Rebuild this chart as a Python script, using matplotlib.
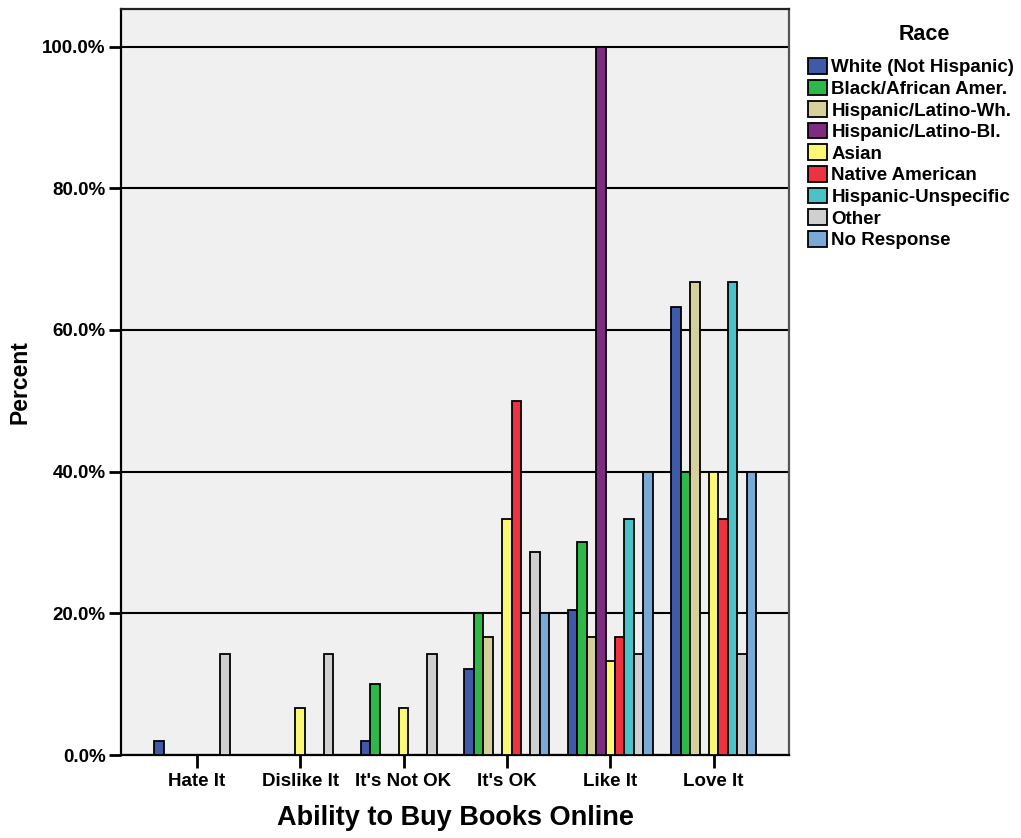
import numpy as np
import matplotlib
matplotlib.use("Agg")
import matplotlib.pyplot as plt
from matplotlib.patches import Patch

plt.rcParams['font.family'] = ['Liberation Sans', 'DejaVu Sans']
plt.rcParams['font.weight'] = 'bold'

# categories on x
categories = ["Hate It", "Dislike It", "It's Not OK", "It's OK", "Like It", "Love It"]

# races (legend) and their colours
races = ["White (Not Hispanic)", "Black/African Amer.", "Hispanic/Latino-Wh.",
         "Hispanic/Latino-Bl.", "Asian", "Native American",
         "Hispanic-Unspecific", "Other", "No Response"]
colors = ["#3f5aa8", "#2fb84a", "#d6d09b", "#7f2b82", "#fbf873",
          "#ee3340", "#49c2c8", "#d0d0d0", "#7aa9d8"]

# percent per race, one value per category (0 = no bar)
white = [2.0, 0.0, 2.0, 12.2, 20.4, 63.3]
black = [0.0, 0.0, 10.0, 20.0, 30.0, 40.0]
hisp_wh = [0.0, 0.0, 0.0, 16.7, 16.7, 66.7]
hisp_bl = [0.0, 0.0, 0.0, 0.0, 100.0, 0.0]
asian = [0.0, 6.7, 6.7, 33.3, 13.3, 40.0]
native = [0.0, 0.0, 0.0, 50.0, 16.7, 33.3]
hisp_unsp = [0.0, 0.0, 0.0, 0.0, 33.3, 66.7]
other = [14.3, 14.3, 14.3, 28.6, 14.3, 14.3]
no_resp = [0.0, 0.0, 0.0, 20.0, 40.0, 40.0]

series = [white, black, hisp_wh, hisp_bl, asian, native, hisp_unsp, other, no_resp]

fig = plt.figure(figsize=(10.21, 8.38), dpi=100)
ax = fig.add_axes([121 / 1021, 83 / 838, 668 / 1021, 746 / 838])
ax.set_facecolor("#f0f0f0")

x = np.arange(len(categories))
w = 0.0912
n = len(series)
for i, (vals, c) in enumerate(zip(series, colors)):
    vals = np.array(vals)
    xs = x + (i - (n - 1) / 2) * w
    mask = vals > 0
    ax.bar(xs[mask], vals[mask], width=w, color=c, edgecolor="black",
           linewidth=1.3, zorder=3)

ax.set_xlim(-0.732, 5.728)
ax.set_ylim(0, 105.3)
ax.set_yticks([0, 20, 40, 60, 80, 100])
ax.set_yticklabels(["0.0%", "20.0%", "40.0%", "60.0%", "80.0%", "100.0%"])
ax.set_xticks(x)
ax.set_xticklabels(categories)
ax.yaxis.grid(True, color="black", linewidth=1.5, zorder=1)
ax.set_axisbelow(True)

ax.tick_params(axis="both", labelsize=13.5, width=2, length=9, color="black")
ax.tick_params(axis="x", pad=4)
ax.tick_params(axis="y", pad=2)
for s in ax.spines.values():
    s.set_linewidth(1.6)
    s.set_color("black")
ax.spines["right"].set_color("#555555")
ax.spines["top"].set_color("#222222")

ax.set_xlabel("Ability to Buy Books Online", fontsize=19.5, fontweight="bold", labelpad=11)
ax.set_ylabel("Percent", fontsize=16.5, fontweight="bold", labelpad=8)

fig.text(924 / 1021, 1 - 34 / 838, "Race", ha="center", va="center",
         fontsize=15.5, fontweight="bold")
handles = [Patch(facecolor=c, edgecolor="black", linewidth=1.3) for c in colors]
leg = fig.legend(handles, races, loc="upper left", bbox_to_anchor=(808 / 1021, 1 - 58 / 838),
                 frameon=False, prop={"size": 13.5, "weight": "bold"},
                 handlelength=1.0, handleheight=0.9, handletextpad=0.25,
                 labelspacing=0.18, borderaxespad=0, borderpad=0)

fig.savefig("out.png", dpi=100)
